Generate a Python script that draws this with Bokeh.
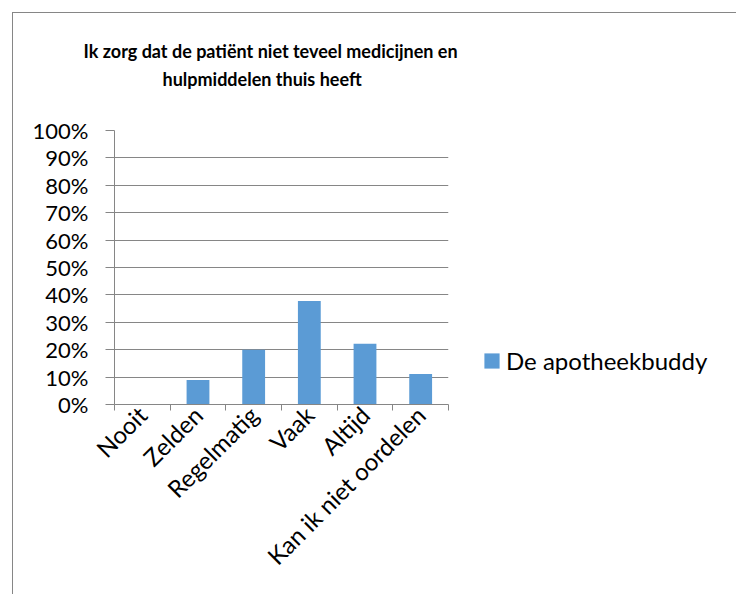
from bokeh.plotting import figure
from bokeh.models import (Range1d, FixedTicker, NumeralTickFormatter, Title,
                          Legend, LegendItem, ColumnDataSource)
from bokeh.embed import file_html
from bokeh.resources import INLINE
import math

categories = ["Nooit", "Zelden", "Regelmatig", "Vaak", "Altijd", "Kan ik niet oordelen"]
values = [0.0, 0.089, 0.200, 0.378, 0.222, 0.111]
series_name = "De apotheekbuddy"
title_lines = ["Ik zorg dat de patiënt niet teveel medicijnen en", "hulpmiddelen thuis heeft"]
y_ticks = [0.0, 0.1, 0.2, 0.3, 0.4, 0.5, 0.6, 0.7, 0.8, 0.9, 1.0]

FONT = "Lato"
GRAY = "#868686"
BLUE = "#5B9BD5"

xc = [i + 0.5 for i in range(len(categories))]
src = ColumnDataSource(dict(x=xc, top=values, cat=categories))

p = figure(frame_width=334, frame_height=274, output_backend="svg", toolbar_location=None,
           x_range=Range1d(0, len(categories)), y_range=Range1d(0, 1),
           min_border_left=101, min_border_right=0, min_border_top=117,
           min_border_bottom=190)
p.styles = {"margin-left": "12px", "margin-top": "12px",
            "border-left": f"1px solid {GRAY}", "border-top": f"1px solid {GRAY}",
            "border-right": "none", "border-bottom": "none"}

r = p.vbar(x="x", top="top", bottom=0, width=0.41, source=src,
           fill_color=BLUE, line_color=None)

p.outline_line_color = None
p.xgrid.grid_line_color = None
p.ygrid.grid_line_color = GRAY
p.ygrid.grid_line_width = 1

# y axis
ya = p.yaxis[0]
ya.ticker = FixedTicker(ticks=y_ticks)
ya.formatter = NumeralTickFormatter(format="0%")
ya.axis_line_color = GRAY
ya.major_tick_line_color = GRAY
ya.major_tick_out = 9
ya.major_tick_in = 0
ya.minor_tick_line_color = None
ya.major_label_text_font = FONT
ya.major_label_text_font_size = "22px"
ya.major_label_text_color = "#000000"
ya.major_label_standoff = 17

# x axis
xa = p.xaxis[0]
xa.ticker = FixedTicker(ticks=xc, minor_ticks=list(range(len(categories) + 1)))
xa.major_label_overrides = {x: c for x, c in zip(xc, categories)}
xa.axis_line_color = GRAY
xa.major_tick_line_color = None
xa.minor_tick_line_color = GRAY
xa.minor_tick_out = 6
xa.minor_tick_in = 0
xa.major_label_orientation = math.pi / 4
xa.major_label_text_font = FONT
xa.major_label_text_font_size = "24px"
xa.major_label_text_color = "#000000"
xa.major_label_standoff = 0

# titles (closest to frame added first)
spacer = Title(text=" ", text_font_size="10px", standoff=26)
t2 = Title(text=title_lines[1], align="left", text_font=FONT, text_font_size="18px",
           text_font_style="bold", text_color="#000000", standoff=4, offset=48)
t1 = Title(text=title_lines[0], align="left", text_font=FONT, text_font_size="18px",
           text_font_style="bold", text_color="#000000", standoff=4, offset=-31)
p.add_layout(spacer, "above")
p.add_layout(t2, "above")
p.add_layout(t1, "above")

legend = Legend(items=[LegendItem(label=series_name, renderers=[r])],
                location=(34, 29), orientation="vertical",
                glyph_width=19, glyph_height=19, label_standoff=5, padding=0,
                margin=0, border_line_color=None, background_fill_alpha=0,
                label_text_font=FONT, label_text_font_size="24px",
                label_text_color="#000000")
p.add_layout(legend, "right")

html = file_html(p, INLINE)
open("out.html", "w").write(html)
